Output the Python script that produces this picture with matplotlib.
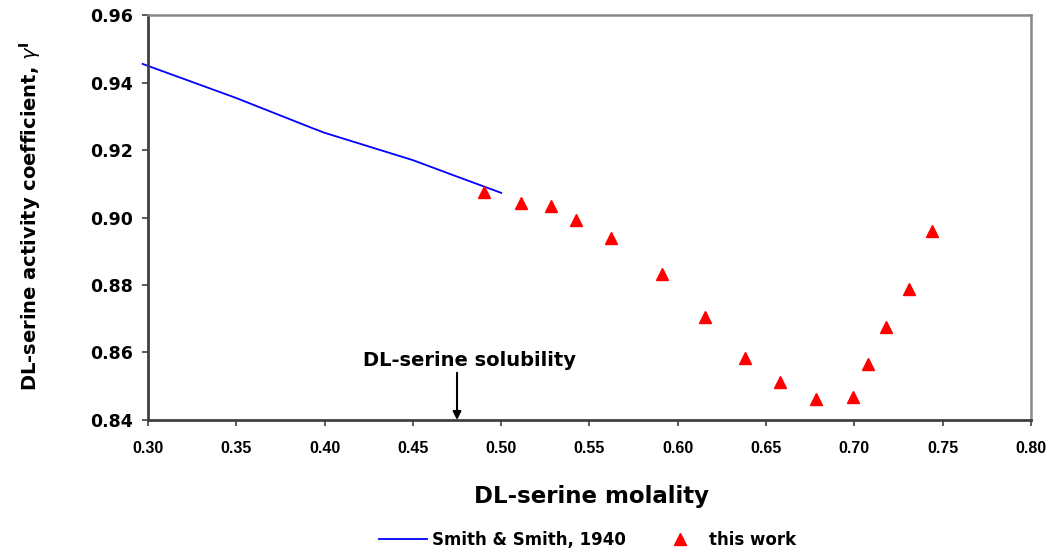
import matplotlib
matplotlib.use("Agg")
import matplotlib.pyplot as plt

plt.rcParams['font.family'] = ['DejaVu Sans']
plt.rcParams['mathtext.fontset'] = 'dejavusans'

# Smith & Smith, 1940 (line)
smith_m = [0.297, 0.35, 0.393, 0.40, 0.45, 0.471, 0.50]
smith_g = [0.9455, 0.9354, 0.9265, 0.9251, 0.9170, 0.9129, 0.9073]

# this work (triangles)
work_m = [0.490, 0.511, 0.528, 0.5425, 0.562, 0.591, 0.6155, 0.638, 0.658,
          0.678, 0.6995, 0.708, 0.718, 0.731, 0.7437]
work_g = [0.9075, 0.9044, 0.9035, 0.8993, 0.8938, 0.8833, 0.8706, 0.8583, 0.8512,
          0.8461, 0.8469, 0.8566, 0.8675, 0.8788, 0.8961]

solubility_m = 0.475

xticks = [0.30, 0.35, 0.40, 0.45, 0.50, 0.55, 0.60, 0.65, 0.70, 0.75, 0.80]
yticks = [0.84, 0.86, 0.88, 0.90, 0.92, 0.94, 0.96]

fig = plt.figure(figsize=(10.60, 5.54), dpi=100)
ax = fig.add_axes([0.1396, 0.2419, 0.9726 - 0.1396, 0.9729 - 0.2419])

ax.plot(smith_m, smith_g, color='#0000FF', lw=1.3, label='Smith & Smith, 1940',
        clip_on=False)
ax.plot(work_m, work_g, ls='none', marker='^', color='#FF0000', ms=9,
        mec='#FF0000', label='this work')

ax.set_xlim(0.30, 0.80)
ax.set_ylim(0.84, 0.96)
ax.set_xticks(xticks)
ax.set_yticks(yticks)
ax.set_xticklabels([f'{v:.2f}' for v in xticks], fontsize=11.5, fontweight='bold',
                   family=['Liberation Sans', 'DejaVu Sans'])
ax.set_yticklabels([f'{v:.2f}' for v in yticks], fontsize=12.5, fontweight='bold')
ax.tick_params(axis='both', direction='out', length=4, width=1.2, color='#404040')
ax.tick_params(axis='x', pad=11)
ax.tick_params(axis='y', pad=7)

for s in ['left', 'bottom']:
    ax.spines[s].set_color('#404040')
    ax.spines[s].set_linewidth(2)
for s in ['top', 'right']:
    ax.spines[s].set_color('#888888')
    ax.spines[s].set_linewidth(1.8)

fig.text(591 / 1060, 1 - 497 / 554, 'DL-serine molality', fontsize=16.5,
         fontweight='bold', ha='center', va='center')
fig.text(30 / 1060, 1 - 216 / 554,
         r'DL-serine activity coefficient, $\gamma^{\mathbf{I}}$', fontsize=14,
         fontweight='bold', rotation=90, ha='center', va='center')

ax.annotate('', xy=(solubility_m, 0.8400), xytext=(solubility_m, 0.8540),
            arrowprops=dict(arrowstyle='-|>', color='black', lw=1.5,
                            mutation_scale=12, shrinkA=0, shrinkB=0))
ax.text(0.4823, 0.8560, 'DL-serine solubility', fontsize=14,
        fontweight='bold', ha='center', va='baseline')

fig.legend(loc='center left', bbox_to_anchor=(379 / 1060, 1 - 540 / 554), ncol=2,
           frameon=False, prop={'size': 12, 'weight': 'bold'}, handlelength=2.9,
           columnspacing=1.75, handletextpad=0.3, borderpad=0, borderaxespad=0)

fig.savefig('out.png', dpi=100)
